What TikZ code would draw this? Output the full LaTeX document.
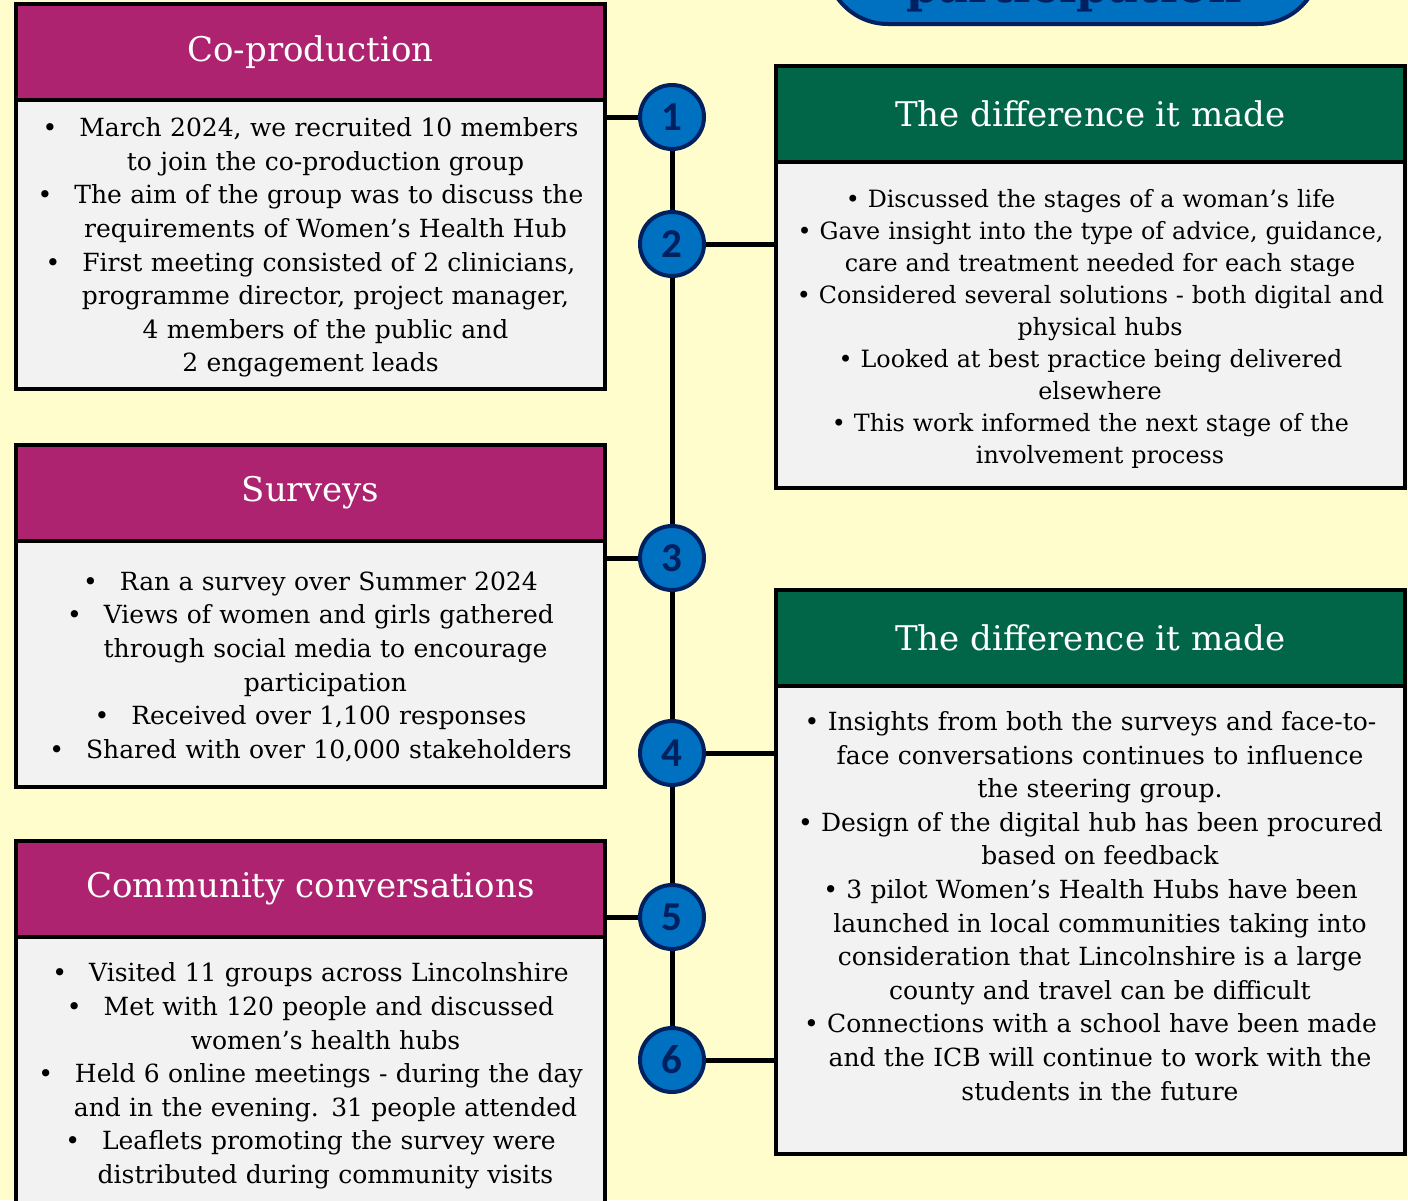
\documentclass[tikz,border=0pt]{standalone}
\usepackage{fontspec}
\setmainfont{DejaVu Serif}
\newfontfamily\numfont{Carlito}
\usetikzlibrary{positioning,calc}

\definecolor{bgyellow}{RGB}{255,253,204}
\definecolor{plum}{RGB}{174,35,112}
\definecolor{forest}{RGB}{0,102,71}
\definecolor{panel}{RGB}{242,242,242}
\definecolor{hubblue}{RGB}{0,112,192}
\definecolor{navy}{RGB}{0,32,96}

\newcommand{\leftbul}{\textbullet\hspace{22pt}}
\newcommand{\leftpad}{\hspace*{30pt}}
\newcommand{\rightbul}{\textbullet\ }
\newcommand{\rightpad}{\hspace*{19pt}}

\begin{document}
\begin{tikzpicture}[x=1pt,y=-1pt,
	head/.style={draw=black, line width=4pt, outer sep=0pt, minimum height=96pt, inner sep=0pt, text=white, font=\fontsize{34}{40}\selectfont},
	lefthead/.style={head, fill=plum, minimum width=589pt},
	righthead/.style={head, fill=forest, minimum width=629pt},
	body/.style={draw=black, line width=4pt, outer sep=0pt, fill=panel, inner sep=0pt, align=center, font=\fontsize{25}{33.6}\selectfont, execute at begin node={\rule{0pt}{25pt}}},
	leftbody/.style={body, minimum width=589pt, text width=585pt},
	rightbody/.style={body, minimum width=629pt, text width=625pt},
	numdot/.style={circle, draw=navy, fill=hubblue, line width=4pt, minimum size=64pt, inner sep=0pt, text=navy, font=\numfont\bfseries\fontsize{41}{41}\selectfont},
	conn/.style={line width=5pt, black}]

	\fill[bgyellow] (0,0) rectangle (1408,1200);
	\useasboundingbox (0,0) rectangle (1408,1200);

	% title, cut off by the top edge
	\node[draw=navy, fill=hubblue, line width=4pt, rounded corners=62pt, minimum width=494pt, minimum height=200pt] (titlebox) at (1073,-76) {};
	\node[anchor=base, text=navy, font=\bfseries\fontsize{46}{46}\selectfont] (titletext) at (1074,2) {participation};

	% left column
	\node[lefthead] (cohead) at (310.5,52) {Co-production};
	\node[leftbody, minimum height=289pt, below=0pt of cohead] (cobody) {
		\leftbul March 2024, we recruited 10 members\\
		\leftpad to join the co-production group\\
		\leftbul The aim of the group was to discuss the\\
		\leftpad requirements of Women's Health Hub\\
		\leftbul First meeting consisted of 2 clinicians,\\
		\leftpad programme director, project manager,\\
		\leftpad 4 members of the public and\\
		2 engagement leads};

	\node[lefthead] (svhead) at (310.5,492.5) {Surveys};
	\node[leftbody, minimum height=246pt, below=0pt of svhead] (svbody) {
		\leftbul Ran a survey over Summer 2024\\
		\leftbul Views of women and girls gathered\\
		\leftpad through social media to encourage\\
		\leftpad participation\\
		\leftbul Received over 1,100 responses\\
		\leftbul Shared with over 10,000 stakeholders};

	\node[lefthead] (cchead) at (310.5,889) {Community conversations};
	\node[leftbody, minimum height=272pt, below=0pt of cchead] (ccbody) {
		\leftbul Visited 11 groups across Lincolnshire\\
		\leftbul Met with 120 people and discussed\\
		\leftpad women's health hubs\\
		\leftbul Held 6 online meetings - during the day\\
		\leftpad and in the evening. 31 people attended\\
		\leftbul Leaflets promoting the survey were\\
		\leftpad distributed during community visits};

	% right column
	\node[righthead] (dmahead) at (1090.5,114) {The difference it made};
	\node[rightbody, minimum height=326pt, below=0pt of dmahead, font=\fontsize{23.8}{32}\selectfont] (dmabody) {
		\rightbul Discussed the stages of a woman's life\\
		\rightbul Gave insight into the type of advice, guidance,\\
		\rightpad care and treatment needed for each stage\\
		\rightbul Considered several solutions - both digital and\\
		\rightpad physical hubs\\
		\rightbul Looked at best practice being delivered\\
		\rightpad elsewhere\\
		\rightbul This work informed the next stage of the\\
		\rightpad involvement process};

	\node[righthead] (dmbhead) at (1090.5,637.5) {The difference it made};
	\node[rightbody, minimum height=468pt, below=0pt of dmbhead] (dmbbody) {
		\rightbul Insights from both the surveys and face-to-\\
		\rightpad face conversations continues to influence\\
		\rightpad the steering group.\\
		\rightbul Design of the digital hub has been procured\\
		\rightpad based on feedback\\
		\rightbul 3 pilot Women's Health Hubs have been\\
		\rightpad launched in local communities taking into\\
		\rightpad consideration that Lincolnshire is a large\\
		\rightpad county and travel can be difficult\\
		\rightbul Connections with a school have been made\\
		\rightpad and the ICB will continue to work with the\\
		\rightpad students in the future\\
		\mbox{}};

	% timeline
	\foreach \n/\y in {1/117,2/244,3/558,4/753,5/917,6/1060}
		\node[numdot] (c\n) at (672,\y) {\n};
	\foreach \a/\b in {1/2,2/3,3/4,4/5,5/6}
		\draw[conn] (c\a.south) -- (c\b.north);

	\draw[conn] (c1.west) -- (c1 -| cobody.east);
	\draw[conn] (c2.east) -- (c2 -| dmabody.west);
	\draw[conn] (c3.west) -- (c3 -| svbody.east);
	\draw[conn] (c4.east) -- (c4 -| dmbbody.west);
	\draw[conn] (c5.west) -- (c5 -| cchead.east);
	\draw[conn] (c6.east) -- (c6 -| dmbbody.west);
\end{tikzpicture}
\end{document}
